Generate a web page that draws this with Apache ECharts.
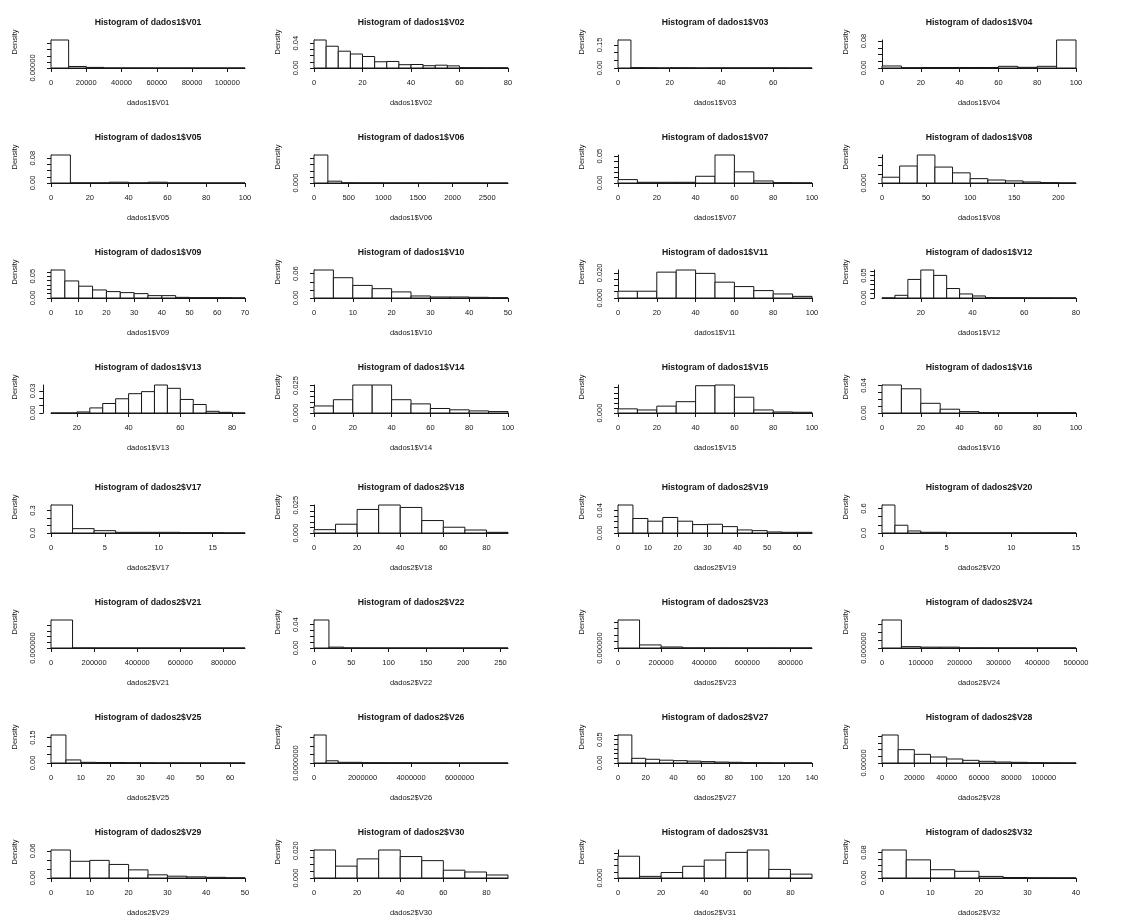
<!DOCTYPE html>
<html>
<head>
<meta charset="utf-8">
<script src="https://cdn.jsdelivr.net/npm/echarts@6/dist/echarts.min.js"></script>
<style>
  html, body { margin: 0; padding: 0; background: #ffffff; }
  #chart { width: 1128px; height: 920px; }
</style>
</head>
<body>
<div id="chart"></div>
<script>
// Bin densities (hist with freq = FALSE), one array per variable
const V01 = [9.2e-5, 5.0e-6, 2.0e-6, 2e-7, 2e-7, 1e-7, 1e-7, 1e-7, 1e-7, 1e-7, 1e-7];
const V02 = [0.045, 0.035, 0.027, 0.0225, 0.0185, 0.010, 0.0105, 0.0053, 0.0056, 0.0037, 0.0045, 0.0034, 0.0006, 0.0005, 0.0004, 0.0004];
const V03 = [0.182, 0.0025, 0.0018, 0.0006, 0.0018, 0.0015, 0.0005, 0.0012, 0.0012, 0.0012, 0.0012, 0.0012, 0.0012, 0.0008, 0.0006];
const V04 = [0.006, 0.001, 0.0015, 0.0015, 0.0015, 0.0015, 0.005, 0.002, 0.005, 0.083];
const V05 = [0.09, 0.0005, 0.0005, 0.0025, 0.0005, 0.0025, 0.0003, 0.0003, 0.0003, 0.0003];
const V06 = [0.0046, 0.0003, 0.00004, 0.00003, 0.00003, 0.00002, 0.00002, 0.00002, 0.00002, 0.00001, 0.00001, 0.00001, 0, 0];
const V07 = [0.0063, 0.0013, 0.0013, 0.0013, 0.0125, 0.052, 0.0207, 0.0038, 0.0006, 0.0003];
const V08 = [0.0033, 0.0097, 0.016, 0.0091, 0.0058, 0.0025, 0.0017, 0.0012, 0.0006, 0.0002, 0.00006];
const V09 = [0.064, 0.039, 0.027, 0.0184, 0.0146, 0.0123, 0.010, 0.0054, 0.0054, 0.0015, 0.0008, 0.0008, 0.0008, 0.0004];
const V10 = [0.069, 0.050, 0.031, 0.023, 0.015, 0.005, 0.0025, 0.0025, 0.0017, 0.0008];
const V11 = [0.0054, 0.0054, 0.0206, 0.0223, 0.0196, 0.0126, 0.0091, 0.0059, 0.0032, 0.0013];
const V12 = [0.0002, 0.006, 0.0414, 0.0624, 0.0504, 0.0211, 0.009, 0.0045, 0.0008, 0.0006, 0.0006, 0.0004, 0.0004, 0.0003, 0.0003];
const V13 = [0, 0, 0.0014, 0.0069, 0.0129, 0.0193, 0.0262, 0.029, 0.038, 0.0335, 0.0184, 0.0115, 0.0023, 0.0009, 0.0001];
const V14 = [0.0064, 0.0121, 0.0255, 0.0255, 0.0121, 0.0083, 0.0041, 0.0029, 0.0019, 0.0013];
const V15 = [0.0041, 0.003, 0.0068, 0.0112, 0.027, 0.0277, 0.0156, 0.003, 0.001, 0.0007];
const V16 = [0.0407, 0.0352, 0.0141, 0.0055, 0.002, 0.0005, 0.0005, 0.0005, 0.0005, 0.0005];
const V17 = [0.372, 0.058, 0.031, 0.009, 0.009, 0.009, 0.0045, 0.0045, 0.002];
const V18 = [0.003, 0.0079, 0.0212, 0.0252, 0.023, 0.0112, 0.0052, 0.0027, 0.0006];
const V19 = [0.0496, 0.0257, 0.0209, 0.0275, 0.0209, 0.0149, 0.0155, 0.0113, 0.0054, 0.0042, 0.0018, 0.0012, 0.0012];
const V20 = [0.686, 0.19, 0.05, 0.017, 0.017, 0.004, 0.004, 0.004, 0.004, 0.004, 0.004, 0.004, 0.004, 0.004, 0.004];
const V21 = [9.95e-6, 3e-8, 1e-8, 1e-8, 1e-8, 1e-8, 1e-8, 1e-8, 1e-8];
const V22 = [0.048, 0.0015, 0.0002, 0.0001, 0.0001, 0.0001, 0.0001, 0.0001, 0.0001, 0.0001, 0.0001, 0.0001, 0.0001];
const V23 = [8.56e-6, 9.4e-7, 3.1e-7, 3e-8, 3e-8, 3e-8, 3e-8, 3e-8, 3e-8];
const V24 = [1.745e-5, 8.5e-7, 5.3e-7, 5.3e-7, 1e-7, 1e-7, 1e-7, 1e-7, 1e-7, 1e-7];
const V25 = [0.165, 0.018, 0.004, 0.003, 0.003, 0.002, 0.0015, 0.001, 0.001, 0.0008, 0.0007, 0.0005, 0.0005];
const V26 = [1.65e-6, 1.3e-7, 4e-8, 4e-8, 2e-8, 2e-8, 1.5e-8, 1.5e-8, 1e-8, 1e-8, 1e-8, 5e-9, 5e-9, 5e-9, 5e-9, 5e-9];
const V27 = [0.060, 0.010, 0.008, 0.006, 0.005, 0.004, 0.003, 0.002, 0.0015, 0.0008, 0.0005, 0.0003, 0.0003, 0.0002];
const V28 = [4.2e-5, 2.0e-5, 1.3e-5, 9e-6, 6e-6, 4e-6, 2.5e-6, 1.5e-6, 1e-6, 5e-7, 3e-7, 2e-7];
const V29 = [0.062, 0.037, 0.039, 0.030, 0.018, 0.007, 0.004, 0.0025, 0.0015, 0.0005];
const V30 = [0.0205, 0.0087, 0.014, 0.0205, 0.0157, 0.0127, 0.0057, 0.0044, 0.0022];
const V31 = [0.0175, 0.0013, 0.0044, 0.0094, 0.0144, 0.0206, 0.0225, 0.0069, 0.0031];
const V32 = [0.088, 0.057, 0.026, 0.021, 0.005, 0.0015, 0.0007, 0.0005];

const densities = [V01, V02, V03, V04, V05, V06, V07, V08, V09, V10, V11, V12, V13, V14, V15, V16,
                   V17, V18, V19, V20, V21, V22, V23, V24, V25, V26, V27, V28, V29, V30, V31, V32];

// Variable names and the data frame each one comes from
const varNames = ['V01','V02','V03','V04','V05','V06','V07','V08','V09','V10','V11','V12','V13','V14','V15','V16',
                  'V17','V18','V19','V20','V21','V22','V23','V24','V25','V26','V27','V28','V29','V30','V31','V32'];
const frames = ['dados1','dados1','dados1','dados1','dados1','dados1','dados1','dados1',
                'dados1','dados1','dados1','dados1','dados1','dados1','dados1','dados1',
                'dados2','dados2','dados2','dados2','dados2','dados2','dados2','dados2',
                'dados2','dados2','dados2','dados2','dados2','dados2','dados2','dados2'];

// First break and bin width of each histogram
const breakStart = [0, 0, 0, 0, 0, 0, 0, 0, 0, 0, 0, 5, 10, 0, 0, 0,
                    0, 0, 0, 0, 0, 0, 0, 0, 0, 0, 0, 0, 0, 0, 0, 0];
const binWidth = [10000, 5, 5, 10, 10, 200, 10, 20, 5, 5, 10, 5, 5, 10, 10, 10,
                  2, 10, 5, 1, 100000, 20, 100000, 50000, 5, 500000, 10, 10000, 5, 10, 10, 5];

// x-axis tick labels
const xTicks = [
  [0, 20000, 40000, 60000, 80000, 100000], [0, 20, 40, 60, 80], [0, 20, 40, 60], [0, 20, 40, 60, 80, 100],
  [0, 20, 40, 60, 80, 100], [0, 500, 1000, 1500, 2000, 2500], [0, 20, 40, 60, 80, 100], [0, 50, 100, 150, 200],
  [0, 10, 20, 30, 40, 50, 60, 70], [0, 10, 20, 30, 40, 50], [0, 20, 40, 60, 80, 100], [20, 40, 60, 80],
  [20, 40, 60, 80], [0, 20, 40, 60, 80, 100], [0, 20, 40, 60, 80, 100], [0, 20, 40, 60, 80, 100],
  [0, 5, 10, 15], [0, 20, 40, 60, 80], [0, 10, 20, 30, 40, 50, 60], [0, 5, 10, 15],
  [0, 200000, 400000, 600000, 800000], [0, 50, 100, 150, 200, 250], [0, 200000, 400000, 600000, 800000], [0, 100000, 200000, 300000, 400000, 500000],
  [0, 10, 20, 30, 40, 50, 60], [0, 2000000, 4000000, 6000000], [0, 20, 40, 60, 80, 100, 120, 140], [0, 20000, 40000, 60000, 80000, 100000],
  [0, 10, 20, 30, 40, 50], [0, 20, 40, 60, 80], [0, 20, 40, 60, 80], [0, 10, 20, 30, 40]
];

// y-axis ticks: spacing, highest tick, labelled ticks and decimals shown
const yStep = [2e-5, 0.01, 0.05, 0.02, 0.02, 0.001, 0.01, 0.005, 0.01, 0.02, 0.005, 0.01, 0.01, 0.005, 0.005, 0.01,
               0.1, 0.005, 0.01, 0.2, 2e-6, 0.01, 2e-6, 5e-6, 0.05, 5e-7, 0.01, 1e-5, 0.02, 0.005, 0.005, 0.02];
const yTop = [8e-5, 0.04, 0.15, 0.08, 0.08, 0.004, 0.05, 0.015, 0.06, 0.06, 0.02, 0.06, 0.03, 0.025, 0.025, 0.04,
              0.3, 0.025, 0.04, 0.6, 8e-6, 0.04, 8e-6, 1.5e-5, 0.15, 1.5e-6, 0.06, 4e-5, 0.06, 0.02, 0.02, 0.08];
const yLabelled = [[0], [0, 0.04], [0, 0.15], [0, 0.08], [0, 0.08], [0], [0, 0.05], [0],
                   [0, 0.05], [0, 0.06], [0, 0.02], [0, 0.05], [0, 0.03], [0, 0.025], [0], [0, 0.04],
                   [0, 0.3], [0, 0.025], [0, 0.04], [0, 0.6], [0], [0, 0.04], [0], [0],
                   [0, 0.15], [0], [0, 0.05], [0], [0, 0.06], [0, 0.02], [0], [0, 0.08]];
const yDigits = [5, 2, 2, 2, 2, 3, 2, 3, 2, 2, 3, 2, 2, 3, 3, 2,
                 1, 3, 2, 1, 6, 2, 6, 6, 2, 7, 2, 5, 2, 3, 3, 2];

const FONT = '"Liberation Sans", Arial, Helvetica, sans-serif';
const INK = '#161616';
const colLeft = [51, 314, 618, 882];   // left edge of the break range in each column
const plotW = 194;                     // width of the break range
const plotH = 28;                      // height from 0 to the tallest bar
const rangePad = plotW * 0.04;         // R pads the user range by 4% on each side

const grids = [], xAxes = [], yAxes = [], series = [], titles = [];

densities.forEach((dens, i) => {
  const c = i % 4;
  const r = Math.floor(i / 4);
  const rowTop = r * 115 + (r >= 4 ? 5 : 0);
  const start = breakStart[i];
  const w = binWidth[i];
  const end = start + dens.length * w;
  const yMax = Math.max(Math.max.apply(null, dens), yTop[i]);
  const yTicks = [];
  for (let k = 0; k * yStep[i] <= yTop[i] * (1 + 1e-9); k++) {
    yTicks.push(Number((k * yStep[i]).toPrecision(10)));
  }
  const name = frames[i] + '$' + varNames[i];

  titles.push({
    text: 'Histogram of ' + name,
    left: colLeft[c] + plotW / 2,
    top: rowTop + 18,
    textAlign: 'center',
    padding: 0,
    textStyle: { fontFamily: FONT, fontSize: 8.7, fontWeight: 'bold', color: INK }
  });

  grids.push({ left: colLeft[c], top: rowTop + 40, width: plotW, height: plotH });

  xAxes.push({
    gridIndex: i, type: 'value', min: start, max: end, offset: 1,
    name: name, nameLocation: 'middle', nameGap: 30,
    nameTextStyle: { fontFamily: FONT, fontSize: 7.5, color: INK },
    axisLine: { show: true, lineStyle: { color: INK, width: 1 } },
    axisTick: { show: true, length: 4, customValues: xTicks[i], lineStyle: { color: INK, width: 1 } },
    axisLabel: { customValues: xTicks[i], formatter: v => String(v), margin: 10,
                 fontFamily: FONT, fontSize: 7.5, color: INK },
    splitLine: { show: false }
  });

  yAxes.push({
    gridIndex: i, type: 'value', min: 0, max: yMax, offset: rangePad,
    name: 'Density', nameLocation: 'middle', nameGap: 24,
    nameTextStyle: { fontFamily: FONT, fontSize: 7.5, color: INK, padding: [0, 0, 0, 24] },
    axisLine: { show: true, lineStyle: { color: INK, width: 1 } },
    axisTick: { show: true, length: 4, customValues: yTicks, lineStyle: { color: INK, width: 1 } },
    axisLabel: { customValues: yLabelled[i], rotate: 90, margin: 6,
                 formatter: v => Number(v).toFixed(yDigits[i]),
                 fontFamily: FONT, fontSize: 7.5, color: INK },
    splitLine: { show: false }
  });

  series.push({
    type: 'custom', xAxisIndex: i, yAxisIndex: i, clip: false, silent: true,
    data: dens.map((d, k) => [start + k * w, start + (k + 1) * w, d]),
    encode: { x: [0, 1], y: 2 },
    renderItem: (params, api) => {
      const topLeft = api.coord([api.value(0), api.value(2)]);
      const bottomRight = api.coord([api.value(1), 0]);
      return {
        type: 'rect',
        shape: { x: topLeft[0], y: topLeft[1], width: bottomRight[0] - topLeft[0], height: bottomRight[1] - topLeft[1] },
        style: { fill: '#ffffff', stroke: INK, lineWidth: 1 }
      };
    }
  });
});

const chart = echarts.init(document.getElementById('chart'), null, { renderer: 'canvas' });
chart.setOption({
  animation: false,
  backgroundColor: '#ffffff',
  title: titles,
  grid: grids,
  xAxis: xAxes,
  yAxis: yAxes,
  series: series
});
</script>
</body>
</html>
